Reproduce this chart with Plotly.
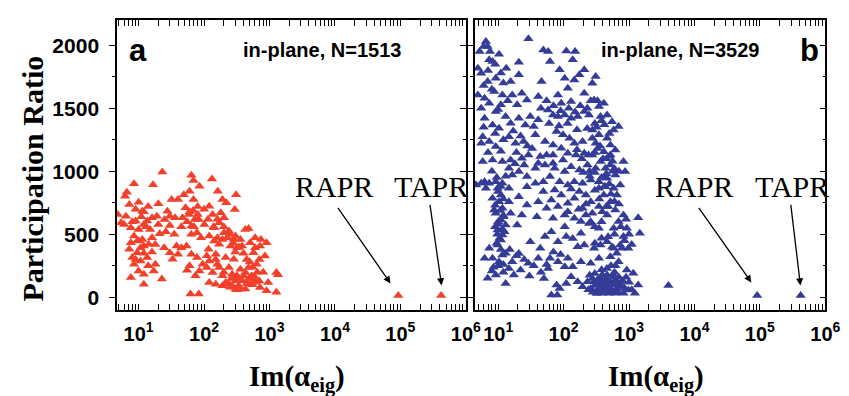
import plotly.graph_objects as go

# ---------------- data ----------------
a_im = [23, 8.5, 16.6, 64, 69, 132, 85, 6.6, 6.2, 60, 49, 162, 309, 32, 40, 69, 20, 10, 7.2, 191,
        219, 120, 52, 68, 295, 11.4, 4.8, 6.4, 27.5, 30, 19, 16, 13.5, 9, 47, 59, 80, 83, 135, 180,
        202, 170, 143, 6.0, 7.6, 10, 15, 21, 16, 8.5, 11.4, 12, 7.2, 9.5, 64, 78, 90, 202, 302, 359,
        427, 479, 603, 741, 902, 380, 254, 170, 117, 569, 851, 151, 214, 285, 24.5, 30, 38, 54, 33, 64,
        78, 60, 55, 85, 74, 110, 135, 120, 170, 191, 214, 269, 320, 380, 427, 507, 603, 716, 955, 1274,
        1349, 902, 1274, 62, 83, 359, 427, 302, 7.6, 12, 22.6, 10, 8.5, 10.7, 18, 17, 13.5, 8, 12, 9.5,
        14.3, 7.6, 10.7, 5.4, 12, 20, 25, 36, 160, 191, 240, 285, 120, 143, 120, 160, 240, 269, 359, 479,
        537, 638, 302, 240, 479, 339, 191, 151, 95, 40, 45, 72, 64, 101, 226, 320, 603, 507, 716,
        9, 12, 14, 11, 8, 13, 10, 12, 9, 14, 16, 18, 26, 30, 35, 45, 55, 60, 70, 80,
        100, 115, 140, 160, 200, 250, 280, 300, 340, 400, 450, 500, 550, 650, 700, 260, 300, 350, 400, 450,
        500, 550, 600, 700, 800, 250, 320, 200, 150, 110,
        93000, 420000]
a_pr = [994, 902, 894, 968, 928, 939, 881, 834, 802, 842, 815, 842, 815, 776, 776, 776, 742, 755, 736, 776,
        750, 723, 710, 689, 697, 684, 657, 644, 684, 644, 644, 631, 605, 605, 631, 657, 657, 618, 657, 671,
        631, 592, 552, 579, 552, 539, 539, 505, 473, 487, 460, 408, 381, 355, 500, 513, 473, 513, 487, 460,
        539, 547, 473, 460, 434, 408, 408, 421, 381, 355, 329, 342, 316, 302, 394, 355, 408, 408, 302, 342,
        316, 250, 216, 210, 171, 237, 197, 118, 237, 171, 118, 92, 171, 131, 197, 105, 158, 79, 118, 197,
        179, 53, 40, 26, 26, 66, 66, 66, 158, 105, 145, 210, 263, 289, 263, 210, 316, 316, 184, 447,
        421, 434, 394, 592, 579, 579, 618, 631, 473, 460, 526, 460, 487, 447, 289, 263, 237, 184, 224, 237,
        171, 263, 131, 105, 145, 92, 92, 105, 263, 342, 394, 618, 566, 579, 473, 394, 394, 434, 408,
        700, 680, 720, 640, 600, 560, 450, 350, 300, 250, 360, 420, 520, 570, 500, 560, 600, 680, 560, 720,
        700, 620, 560, 620, 560, 500, 430, 360, 400, 350, 300, 280, 240, 200, 300, 150, 160, 130, 170, 110,
        150, 100, 120, 130, 200, 80, 60, 200, 300, 330,
        15, 15]

b_im = [6.5, 6.9, 29, 49, 58, 110, 150, 10.3, 7.3, 8.2, 20.7, 62, 138, 4.9, 5.5, 13.3, 20.7, 15.5, 9.2, 6.9,
        87, 104, 207, 174, 146, 309, 275, 46, 41, 4.9, 6.2, 8.7, 11.6, 16.4, 23, 27.5, 7.3, 11, 19.5, 82,
        116, 207, 292, 412, 347, 92, 130, 58, 69, 82, 104, 130, 164, 207, 245, 367, 462, 550, 692, 582,
        9.2, 13, 15.5, 20.7, 26, 35, 41, 31, 6.2, 8.2, 10.3, 5.8, 5.5, 7.3, 9.2, 14.6, 18.4, 24.5, 37, 52,
        69, 78, 98, 123, 146, 195, 275, 309, 275, 347, 462, 519, 617, 412, 275, 207, 155, 116, 92, 69,
        55, 41, 29, 23, 15.5, 11.6, 8.2, 5.8, 14.6, 73, 104, 130, 174, 232, 309, 367, 437, 519, 617, 822,
        871, 462, 347, 260, 195, 146, 116, 87, 62, 49, 37, 27.5, 6.2, 7.3, 9.2, 11.6, 9.8, 11, 10.3, 11.6,
        9.2, 11, 13, 9.8, 11.6, 14.6, 15.5, 8.2, 8.7, 14.6, 20.7, 27.5, 23, 19.5, 49, 41, 55, 39, 69, 104,
        104, 116, 146, 174, 219, 260, 195, 275, 347, 412, 519, 462, 617, 822, 692, 582, 923, 1380, 1462, 822,
        347, 245, 184, 138, 164, 110, 82, 65, 52, 44, 31, 41, 62, 58, 82, 104, 116, 138, 207, 292,
        367, 462, 582, 733, 776, 977, 519, 692, 347, 260, 184, 923, 1161, 1380, 1230, 822, 977, 733, 582, 462,
        367, 292, 260, 309, 367, 412, 462, 519, 582, 653, 490, 389, 617, 232, 195, 164, 130, 110, 87, 78,
        65, 80, 22, 17.4, 13, 9.2, 6.9, 10.3, 8.2, 6.2, 11.6, 7.3, 9.8, 11, 20.7, 16.4, 14.6, 29, 4.6, 5.5,
        6.5, 16.4, 20.7, 27.5, 37, 52, 44, 69, 98, 73, 92, 65, 82, 116, 146, 184, 219, 347, 437, 582,
        733, 653, 275, 330, 400, 440, 500, 560, 620, 700, 350, 300, 430, 520, 390, 250, 600, 700, 800, 850,
        10, 12, 9, 10.5, 12.5, 9.5, 11, 13, 10, 12, 8.5, 330, 400, 450, 380, 420, 350, 480, 390, 300,
        250, 500, 560, 320, 380, 6.0, 7.5,
        5.2, 7, 9, 11, 6, 12, 8, 14, 5.5, 10,
        6, 9, 12, 17, 22, 28, 7, 11, 19, 25, 33, 8, 13, 18,
        9.5, 11, 10, 12, 9, 10.8, 12, 10, 11.5, 9.7,
        45, 55, 70, 90, 120, 150, 180, 230, 260, 330, 60, 85, 115, 160, 230, 300, 420, 500,
        160, 190, 240, 300, 360, 450, 520, 560, 600, 700, 250, 200, 300, 430, 500,
        130, 170, 220, 260, 300, 380, 450, 530, 600, 700, 750, 900, 1000, 600, 480, 300, 380, 550, 650, 850, 1100,
        240, 280, 320, 340, 420, 470, 540, 570, 640, 680, 760, 900, 1000, 1100, 300, 380, 460, 530, 620,
        15, 19, 25, 35, 45, 55, 70, 90, 50, 30, 8, 12,
        4000, 91000, 420000]
b_pr = [2029, 1990, 2051, 1963, 1950, 1955, 1950, 1929, 1884, 1871, 1865, 1871, 1884, 1818, 1778, 1818, 1765, 1712, 1738, 1712,
        1805, 1738, 1805, 1765, 1725, 1752, 1699, 1712, 1593, 1606, 1580, 1633, 1606, 1606, 1619, 1566, 1540, 1527, 1527, 1606,
        1659, 1619, 1566, 1540, 1513, 1540, 1553, 1487, 1447, 1434, 1447, 1421, 1434, 1474, 1447, 1434, 1447, 1394, 1355, 1328,
        1474, 1434, 1381, 1421, 1368, 1355, 1408, 1434, 1421, 1368, 1342, 1275, 1222, 1236, 1196, 1275, 1222, 1236, 1289, 1236,
        1209, 1315, 1289, 1262, 1222, 1236, 1262, 1222, 1328, 1289, 1262, 1209, 1169, 1156, 1130, 1143, 1130, 1143, 1183, 1130,
        1130, 1064, 1130, 1103, 1090, 1077, 1090, 1077, 1024, 1024, 998, 1037, 1011, 1050, 1024, 1077, 1024, 1050, 971, 1077,
        998, 945, 918, 931, 905, 918, 892, 918, 958, 918, 905, 878, 918, 905, 918, 905, 865, 812, 759, 706,
        667, 614, 574, 534, 495, 759, 667, 786, 693, 865, 799, 733, 654, 574, 839, 759, 706, 640, 627, 654,
        561, 746, 786, 839, 812, 759, 706, 667, 720, 812, 759, 654, 693, 654, 601, 548, 548, 632, 508, 482,
        548, 587, 508, 468, 402, 482, 442, 521, 482, 389, 442, 310, 310, 230, 283, 243, 310, 243, 415, 389,
        415, 442, 389, 415, 389, 389, 323, 283, 310, 270, 283, 217, 191, 98, 32, 32, 58, 111, 164, 177,
        151, 124, 71, 45, 85, 124, 98, 71, 111, 71, 32, 32, 32, 124, 85, 124, 164, 111, 71, 98,
        18, 18, 217, 177, 111, 177, 151, 283, 310, 310, 336, 389, 415, 455, 349, 283, 230, 270, 892, 905,
        865, 971, 998, 958, 1024, 1050, 1117, 1064, 1090, 852, 812, 773, 720, 680, 627, 601, 654, 865, 878, 865,
        892, 812, 150, 140, 110, 60, 85, 45, 140, 95, 60, 95, 135, 120, 180, 175, 200, 160, 130, 75,
        600, 650, 560, 470, 520, 430, 380, 350, 250, 200, 240, 1180, 1100, 980, 950, 880, 780, 720, 680, 850,
        1000, 1120, 1000, 1350, 1400, 1990, 1950,
        1950, 1800, 1850, 1780, 1680, 1700, 1650, 1560, 1500, 1490,
        1350, 1300, 1250, 1320, 1280, 1200, 1150, 1160, 1150, 1050, 1180, 1000, 960, 1060,
        950, 880, 840, 780, 730, 690, 640, 580, 540, 500,
        1500, 1560, 1520, 1480, 1500, 1470, 1520, 1500, 1560, 1560, 1380, 1360, 1380, 1330, 1340, 1380, 1370, 1300,
        1170, 1100, 1130, 1150, 1200, 1100, 1130, 1080, 1020, 1000, 960, 990, 990, 950, 900,
        860, 700, 740, 600, 560, 600, 720, 820, 760, 740, 560, 620, 500, 500, 480, 430, 470, 400, 350, 450, 420,
        60, 40, 30, 110, 50, 140, 100, 180, 130, 40, 90, 160, 120, 60, 190, 220, 230, 250, 250,
        380, 330, 300, 250, 200, 260, 360, 340, 150, 170, 210, 260,
        95, 15, 15]

x_tickvals = [10, 100, 1000, 10000, 100000, 1000000]
x_ticktext = ["10<sup>1</sup>", "10<sup>2</sup>", "10<sup>3</sup>", "10<sup>4</sup>", "10<sup>5</sup>", "10<sup>6</sup>"]
x_minor = [m * 10 ** k for k in range(0, 6) for m in range(2, 10)]
y_tickvals = [0, 500, 1000, 1500, 2000]
y_ticktext = ["0", "500", "1000", "1500", "2000"]
y_minor = [250, 750, 1250, 1750]

panel_labels = ["a", "b"]
panel_titles = ["in-plane, N=1513", "in-plane, N=3529"]

RED = "#f2402b"
BLUE = "#343c98"

W, H = 849, 396
def px_x(p):
    return p / W
def px_y(p):
    return 1 - p / H

dom_a = [px_x(111), px_x(466)]
dom_b = [px_x(475), px_x(832)]
dom_y = [px_y(302), px_y(12)]
yrange = [-100, 2200]

xtickfont = dict(family="Liberation Sans", size=20, color="black", weight="bold")
ytickfont = dict(family="Liberation Sans", size=21, color="black", weight="bold")

fig = go.Figure()
fig.add_trace(go.Scatter(x=a_im, y=a_pr, mode="markers", xaxis="x", yaxis="y",
                         marker=dict(symbol="triangle-up", size=9, color=RED, line=dict(width=0)),
                         showlegend=False))
fig.add_trace(go.Scatter(x=b_im, y=b_pr, mode="markers", xaxis="x2", yaxis="y2",
                         marker=dict(symbol="triangle-up", size=9, color=BLUE, line=dict(width=0)),
                         showlegend=False))
# helper traces so the right-hand frame axes render
fig.add_trace(go.Scatter(x=[None], y=[None], xaxis="x", yaxis="y3", showlegend=False, hoverinfo="skip"))
fig.add_trace(go.Scatter(x=[None], y=[None], xaxis="x2", yaxis="y4", showlegend=False, hoverinfo="skip"))

def xax(dom, rng, anchor):
    return dict(type="log", domain=dom, range=rng, anchor=anchor,
                showline=True, linecolor="black", linewidth=1.5, mirror="allticks",
                ticks="inside", ticklen=6, tickwidth=1.3, tickcolor="black",
                tickmode="array", tickvals=x_tickvals, ticktext=x_ticktext,
                tickfont=xtickfont, ticklabelstandoff=5,
                showgrid=False, zeroline=False,
                minor=dict(ticks="inside", ticklen=3, tickwidth=1, tickcolor="black",
                           tickmode="array", tickvals=x_minor, showgrid=False))

def yax(anchor, side="left", overlay=None, labels=True, tickdir="outside"):
    d = dict(domain=dom_y, range=yrange, anchor=anchor, side=side,
             showline=True, linecolor="black", linewidth=1.5,
             ticks=tickdir, ticklen=6, tickwidth=1.3, tickcolor="black",
             tickmode="array", tickvals=y_tickvals, ticktext=y_ticktext,
             showticklabels=labels, tickfont=ytickfont, ticklabelstandoff=6,
             showgrid=False, zeroline=False,
             minor=dict(ticks=tickdir, ticklen=3, tickwidth=1, tickcolor="black",
                        tickmode="array", tickvals=y_minor, showgrid=False))
    if overlay:
        d["overlaying"] = overlay
    return d

fig.update_layout(
    width=W, height=H,
    margin=dict(l=0, r=0, t=0, b=0),
    paper_bgcolor="white", plot_bgcolor="white",
    xaxis=xax(dom_a, [0.67, 6], "y"),
    xaxis2=xax(dom_b, [0.64, 6], "y2"),
    yaxis=yax("x"),
    yaxis2=yax("x2", labels=False),
    yaxis3=yax("x", side="right", overlay="y", labels=False, tickdir="inside"),
    yaxis4=yax("x2", side="right", overlay="y2", labels=False, tickdir="inside"),
)

ann = []
ytitle_font = dict(family="Liberation Serif", size=30, color="black", weight="bold")
xtitle_font = dict(family="Liberation Serif", size=29, color="black", weight="bold")
# axis titles
ann.append(dict(text="Participation Ratio", xref="paper", yref="paper", x=px_x(24), y=px_y(171),
                textangle=-90, showarrow=False, font=ytitle_font, xanchor="center", yanchor="middle"))
for xc in (px_x(294), px_x(660)):
    ann.append(dict(text="Im(α<sub>eig</sub>)", xref="paper", yref="paper", x=xc, y=px_y(370),
                    showarrow=False, font=xtitle_font, xanchor="center", yanchor="middle"))

lab_font = dict(family="Liberation Sans", size=31, color="black", weight="bold")
title_font = dict(family="Liberation Sans", size=20, color="black", weight="bold")
ann.append(dict(text=panel_labels[0], xref="x", yref="y", x=0.985, y=1960, showarrow=False, font=lab_font))
ann.append(dict(text=panel_labels[1], xref="x2", yref="y2", x=5.76, y=1960, showarrow=False, font=lab_font))
ann.append(dict(text=panel_titles[0], xref="x", yref="y", x=3.8, y=1960, showarrow=False, font=title_font))
ann.append(dict(text=panel_titles[1], xref="x2", yref="y2", x=3.78, y=1960, showarrow=False, font=title_font))

serif = dict(family="Liberation Serif", size=30, color="black")
for xr, yr, rx, tx in (("x", "y", 3.98, 5.47), ("x2", "y2", 4.0, 5.49)):
    ann.append(dict(text="RAPR", xref=xr, yref=yr, x=rx, y=881, showarrow=False, font=serif))
    ann.append(dict(text="TAPR", xref=xr, yref=yr, x=tx, y=881, showarrow=False, font=serif))

arrows = [("x", "y", 4.85, 111, 4.03, 722), ("x", "y", 5.63, 95, 5.45, 746),
          ("x2", "y2", 4.87, 119, 4.05, 722), ("x2", "y2", 5.62, 95, 5.47, 746)]
for xr, yr, hx, hy, tx, ty in arrows:
    ann.append(dict(text="", xref=xr, yref=yr, x=hx, y=hy, axref=xr, ayref=yr, ax=tx, ay=ty,
                    showarrow=True, arrowhead=2, arrowsize=1.1, arrowwidth=1.3, arrowcolor="black",
                    standoff=0, startstandoff=0))

fig.update_layout(annotations=ann)
fig.write_html("out.html")
